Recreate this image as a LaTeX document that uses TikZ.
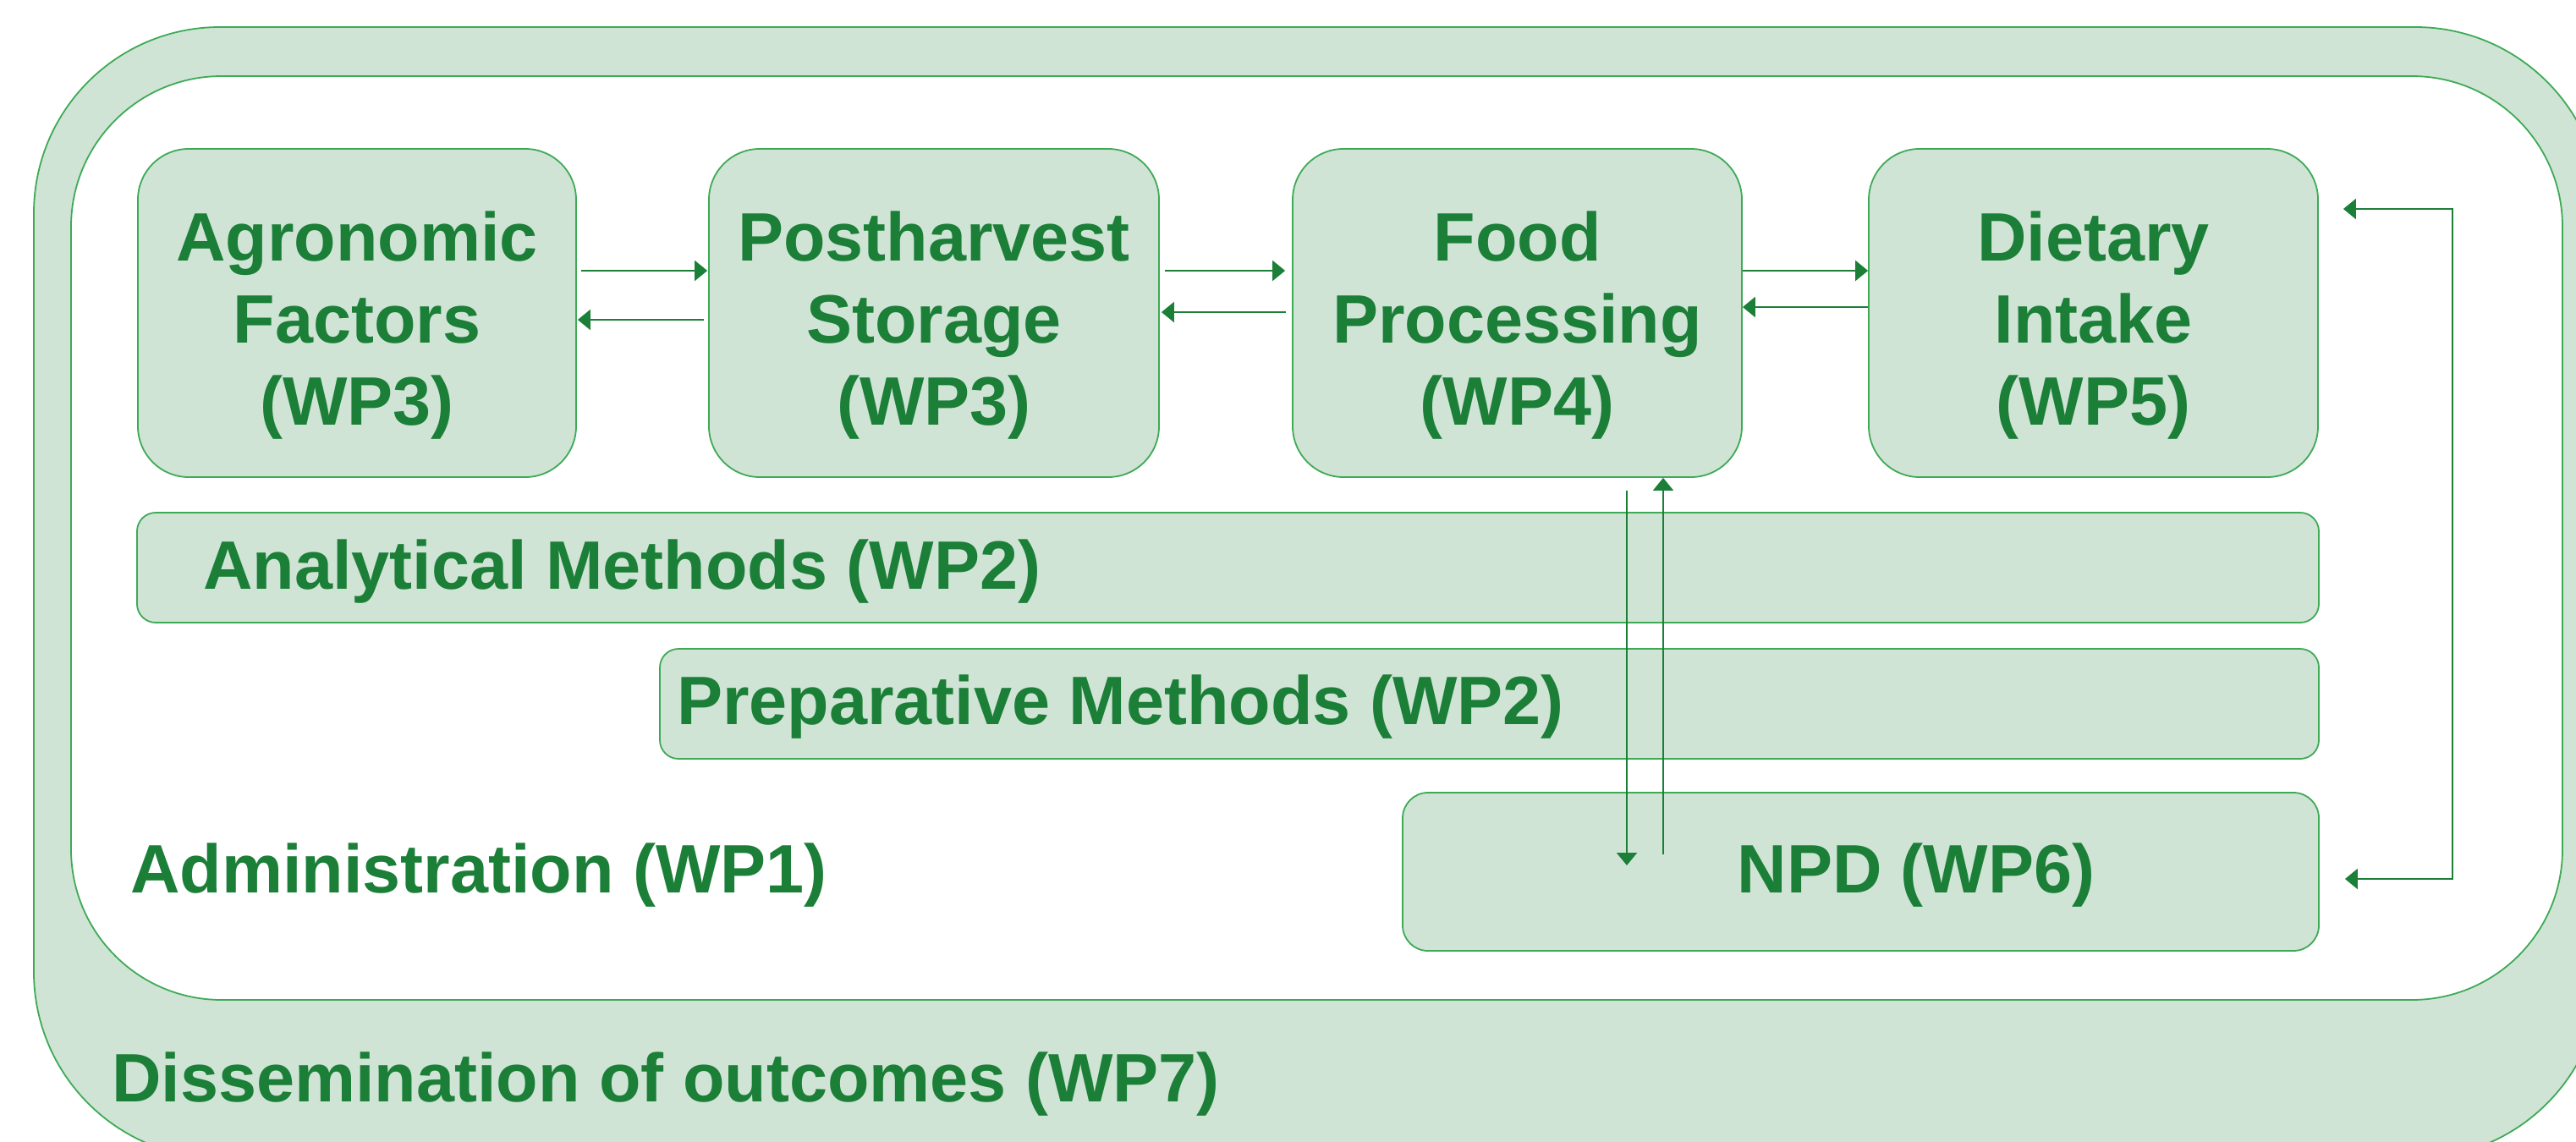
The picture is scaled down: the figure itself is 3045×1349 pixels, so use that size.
\documentclass[tikz,border=0pt]{standalone}
\usepackage{fontspec}
\setmainfont{Liberation Sans}
\usetikzlibrary{arrows.meta}
\definecolor{boxfill}{RGB}{208,228,214}
\definecolor{boxline}{RGB}{62,170,86}
\definecolor{ink}{RGB}{27,127,56}
\begin{document}
\begin{tikzpicture}[x=1pt,y=-1pt,
  frame/.style={draw=boxline, line width=1.8pt},
  wp/.style={draw=boxline, line width=1.8pt, fill=boxfill, inner sep=0pt},
  lbl/.style={text=ink, font=\fontsize{81}{97}\selectfont\bfseries, inner sep=0pt, align=center},
  arr/.style={draw=ink, line width=2.2pt, -{Triangle[length=15pt,width=24pt]}},
  arrboth/.style={draw=ink, line width=2.2pt, {Triangle[length=15pt,width=24pt]}-{Triangle[length=15pt,width=24pt]}},
]
\useasboundingbox (0,0) rectangle (3045,1349);
\clip (0,0) rectangle (3045,1349);
% frames
\draw[frame, fill=boxfill, rounded corners=220pt] (40,32) rectangle (3075,1369);
\draw[frame, fill=white, rounded corners=178pt] (84,90) rectangle (3029,1182);

% top boxes
\node[wp, rounded corners=60pt, minimum width=518pt, minimum height=388pt] (agro) at (422,370) {};
\node[wp, rounded corners=60pt, minimum width=532pt, minimum height=388pt] (post) at (1104,370) {};
\node[wp, rounded corners=60pt, minimum width=531pt, minimum height=388pt] (food) at (1793.5,370) {};
\node[wp, rounded corners=60pt, minimum width=531pt, minimum height=388pt] (diet) at (2474.5,370) {};
\node[lbl] (agroT) at (422,385) {Agronomic\\Factors\\(WP3)};
\node[lbl] (postT) at (1104,385) {Postharvest\\Storage\\(WP3)};
\node[lbl] (foodT) at (1793.5,385) {Food\\Processing\\(WP4)};
\node[lbl] (dietT) at (2474.5,385) {Dietary\\Intake\\(WP5)};

% bars
\node[wp, rounded corners=22pt, minimum width=2579pt, minimum height=130pt] (anal) at (1451.5,671) {};
\node[wp, rounded corners=22pt, minimum width=1961pt, minimum height=130pt] (prep) at (1760.5,832) {};
\node[wp, rounded corners=30pt, minimum width=1083pt, minimum height=187pt] (npd) at (2199.5,1030.5) {};
\node[lbl, anchor=base west] (analT) at (240,696) {Analytical Methods (WP2)};
\node[lbl, anchor=base west] (prepT) at (800,856) {Preparative Methods (WP2)};
\node[lbl, anchor=base] (npdT) at (2265,1055) {NPD (WP6)};
\node[lbl, anchor=base west] (admT) at (154,1055) {Administration (WP1)};
\node[lbl, anchor=base west] (disT) at (132,1302) {Dissemination of outcomes (WP7)};

% horizontal arrows
\draw[arr, shorten <=5pt, shorten >=1pt] (agro.east |- 0,320) -- (post.west |- 0,320);
\draw[arr, shorten <=5pt, shorten >=1pt] (post.west |- 0,378) -- (agro.east |- 0,378);
\draw[arr, shorten <=6pt, shorten >=8pt] (post.east |- 0,320) -- (food.west |- 0,320);
\draw[arr, shorten <=7pt, shorten >=2pt] (food.west |- 0,369) -- (post.east |- 0,369);
\draw[arr] (food.east |- 0,320) -- (diet.west |- 0,320);
\draw[arr] (diet.west |- 0,363) -- (food.east |- 0,363);

% vertical arrows food <-> npd
\coordinate (downEnd) at (1923,1023);
\coordinate (upStart) at (1966,1010);
\draw[arr, shorten <=15pt] (food.south -| downEnd) -- (downEnd);
\draw[arr] (upStart) -- (food.south -| upStart);

% loop dietary <-> npd
\coordinate (loopT) at (2899,247);
\coordinate (loopB) at (2899,1039);
\draw[arrboth, shorten <=29pt, shorten >=30pt] (diet.east |- loopT) -- (loopT) -- (loopB) -- (npd.east |- loopB);
\end{tikzpicture}
\end{document}
